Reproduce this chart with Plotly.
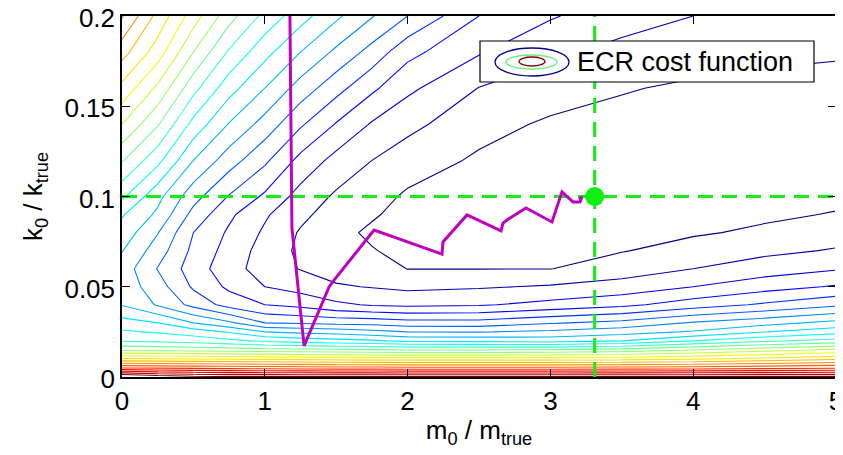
import plotly.graph_objects as go

# ---------------- data ----------------
m_grid = [0, 0.25, 0.5, 0.75, 1.0, 1.25, 1.5, 1.75, 2.0, 2.5, 3.0, 3.5, 4.0, 4.5, 5.0]
k_grid = [0, 0.005, 0.01, 0.015, 0.02, 0.025, 0.03, 0.04, 0.05, 0.06, 0.07, 0.08,
          0.09, 0.10, 0.12, 0.14, 0.16, 0.18, 0.20]

# ECR cost (in contour-level units), one row per k value
cost = [
    [25.5, 24.8, 24.4, 24.2, 24.2, 24.2, 24.2, 24.2, 24.2, 24.2, 24.2, 24.2, 24.2, 24.2, 24.3],
    [20.0, 19.9, 19.8, 19.7, 19.6, 19.5, 19.4, 19.4, 19.3, 19.3, 19.3, 19.4, 19.5, 19.7, 19.9],
    [16.2, 16.1, 16.0, 15.9, 15.8, 15.7, 15.6, 15.5, 15.5, 15.5, 15.5, 15.6, 15.9, 16.3, 16.8],
    [12.8, 12.7, 12.6, 12.5, 12.4, 12.3, 12.2, 12.1, 12.0, 12.0, 12.1, 12.4, 13.0, 13.6, 14.2],
    [10.9, 10.8, 10.6, 10.25, 9.85, 9.55, 9.35, 9.15, 8.8, 8.75, 8.6, 9.0, 10.0, 10.8, 11.4],
    [10.15, 9.9, 9.5, 8.9, 8.0, 7.75, 7.6, 7.3, 7.0, 6.95, 7.2, 7.6, 8.1, 8.97, 9.6],
    [9.4, 9.0, 8.0, 7.2, 6.0, 5.85, 5.7, 5.65, 5.4, 5.4, 5.9, 6.3, 7.1, 7.65, 8.3],
    [7.95, 6.9, 5.7, 4.6, 4.0, 3.7, 3.2, 2.9, 2.8, 2.9, 3.3, 3.75, 4.5, 5.15, 5.8],
    [7.6, 6.45, 4.85, 3.8, 3.0, 2.6, 2.1, 1.95, 1.77, 1.9, 2.1, 2.4, 3.0, 3.6, 4.1],
    [7.55, 5.95, 4.5, 3.4, 2.55, 1.95, 1.6, 1.5, 0.98, 0.98, 0.98, 1.5, 2.0, 2.5, 2.9],
    [8.05, 6.5, 4.75, 3.62, 2.6, 1.8, 1.25, 1.05, 0.75, 0.75, 0.8, 0.95, 1.35, 1.76, 2.08],
    [8.6, 7.05, 5.0, 3.85, 2.85, 1.9, 1.25, 0.85, 0.6, 0.6, 0.65, 0.75, 0.9, 1.15, 1.57],
    [9.1, 7.8, 5.67, 4.2, 3.13, 2.25, 1.5, 1.1, 0.7, 0.5, 0.55, 0.6, 0.7, 0.85, 1.05],
    [10.2, 8.3, 6.38, 4.93, 3.83, 2.62, 1.85, 1.38, 0.85, 0.55, 0.5, 0.5, 0.55, 0.65, 0.8],
    [12.1, 10.3, 8.0, 6.46, 5.2, 3.7, 2.67, 2.0, 1.5, 0.85, 0.6, 0.5, 0.45, 0.45, 0.55],
    [14.0, 12.1, 9.67, 7.93, 6.6, 5.14, 3.93, 2.9, 2.27, 1.35, 0.85, 0.7, 0.55, 0.5, 0.5],
    [15.7, 13.8, 11.33, 9.4, 8.0, 6.57, 5.36, 4.2, 3.22, 1.97, 1.48, 1.07, 0.85, 0.75, 0.7],
    [17.4, 15.5, 13.0, 10.86, 9.33, 8.0, 6.79, 5.64, 4.3, 3.1, 2.2, 1.73, 1.42, 1.2, 1.1],
    [19.1, 16.7, 14.5, 12.4, 10.7, 9.4, 8.2, 7.07, 6.0, 4.0, 3.1, 2.4, 2.0, 1.7, 1.5],
]

# optimisation path
path_m = [1.176, 1.190, 1.275, 1.450, 1.485, 1.765, 2.241, 2.248, 2.416, 2.654, 2.668,
          2.696, 2.829, 3.011, 3.081, 3.158, 3.207, 3.221, 3.200]
path_k = [0.200, 0.0825, 0.0172, 0.0499, 0.0537, 0.0814, 0.0681, 0.0748, 0.0898, 0.0809,
          0.0853, 0.0870, 0.0936, 0.0859, 0.1025, 0.0970, 0.0970, 0.0997, 0.0985]

# true parameters
true_m = 3.31
true_k = 0.10

x_range = [0, 5]
y_range = [0, 0.2]
x_ticks = [0, 1, 2, 3, 4, 5]
y_ticks = [0, 0.05, 0.1, 0.15, 0.2]
y_tick_text = ["0", "0.05", "0.1", "0.15", "0.2"]
legend_label = "ECR cost function"

# ---------------- styling ----------------
FONT = "Liberation Sans, Arial, Helvetica, sans-serif"
FS = 26
jet = [[0.0, "rgb(0,0,128)"], [0.125, "rgb(0,0,255)"], [0.375, "rgb(0,255,255)"],
       [0.625, "rgb(255,255,0)"], [0.875, "rgb(255,0,0)"], [1.0, "rgb(128,0,0)"]]
GREEN = "rgb(17,238,17)"
MAGENTA = "rgb(192,0,192)"

# the page body adds an 8px offset; size the figure so the plot box lands
# at window pixels x 122..836, y 16..377
OFF = 8
W, H = 843 - OFF, 455 - OFF
L, R, T, B = 122 - OFF, 7, 16 - OFF, 78
PW, PH = W - L - R, H - T - B


def px(xp):  # window pixel -> paper x
    return (xp - OFF - L) / PW


def py(yp):  # window pixel -> paper y
    return (H - B - (yp - OFF)) / PH


fig = go.Figure()

fig.add_trace(go.Contour(
    x=m_grid, y=k_grid, z=cost,
    contours=dict(coloring="lines", start=1, end=24, size=1),
    colorscale=jet, zmin=0.5, zmax=24.5, showscale=False,
    line=dict(width=1.1, smoothing=0), hoverinfo="skip",
))

# true-value dashed lines
fig.add_trace(go.Scatter(x=x_range, y=[true_k, true_k], mode="lines",
                         line=dict(color=GREEN, width=3, dash="15px,9px"),
                         hoverinfo="skip", showlegend=False))
fig.add_trace(go.Scatter(x=[true_m, true_m], y=y_range, mode="lines",
                         line=dict(color=GREEN, width=3, dash="15px,9px"),
                         hoverinfo="skip", showlegend=False))

# optimisation path
fig.add_trace(go.Scatter(x=path_m, y=path_k, mode="lines",
                         line=dict(color=MAGENTA, width=3),
                         hoverinfo="skip", showlegend=False))

# true point
fig.add_trace(go.Scatter(x=[true_m], y=[true_k], mode="markers",
                         marker=dict(color=GREEN, size=19),
                         hoverinfo="skip", showlegend=False))

# custom legend box with contour-style icon
shapes = [
    dict(type="rect", xref="paper", yref="paper", x0=px(480), x1=px(814), y0=py(82), y1=py(41),
         fillcolor="white", line=dict(color="black", width=1.2), layer="above"),
    dict(type="circle", xref="paper", yref="paper", x0=px(495), x1=px(569), y0=py(76), y1=py(48),
         line=dict(color="rgb(0,0,140)", width=1.3), layer="above"),
    dict(type="circle", xref="paper", yref="paper", x0=px(506), x1=px(557), y0=py(69), y1=py(55),
         line=dict(color="rgb(100,240,130)", width=1.3), layer="above"),
    dict(type="circle", xref="paper", yref="paper", x0=px(519), x1=px(545), y0=py(66), y1=py(57),
         line=dict(color="rgb(140,0,0)", width=1.3), layer="above"),
]
annotations = [
    dict(xref="paper", yref="paper", x=px(575), y=py(62), xanchor="left", yanchor="middle",
         text=legend_label, showarrow=False, font=dict(family=FONT, size=27, color="black")),
]

axis_common = dict(showline=True, linecolor="black", linewidth=1.5, mirror="allticks",
                   ticks="inside", ticklen=8, tickwidth=1.2, tickcolor="black",
                   showgrid=False, zeroline=False, automargin=False,
                   ticklabeloverflow="allow",
                   tickfont=dict(family=FONT, size=FS, color="black"))

fig.update_layout(
    width=W, height=H,
    margin=dict(l=L, r=R, t=T, b=B),
    paper_bgcolor="white", plot_bgcolor="white",
    showlegend=False,
    shapes=shapes, annotations=annotations,
    xaxis=dict(range=x_range, tickvals=x_ticks, **axis_common,
               title=dict(text="m<sub>0</sub> / m<sub>true</sub>",
                          font=dict(family=FONT, size=FS, color="black"), standoff=6)),
    yaxis=dict(range=y_range, tickvals=y_ticks, ticktext=y_tick_text, **axis_common,
               ticklabelshift=2,
               title=dict(text="k<sub>0</sub> / k<sub>true</sub>",
                          font=dict(family=FONT, size=FS, color="black"), standoff=14)),
)

fig.write_html("out.html")
